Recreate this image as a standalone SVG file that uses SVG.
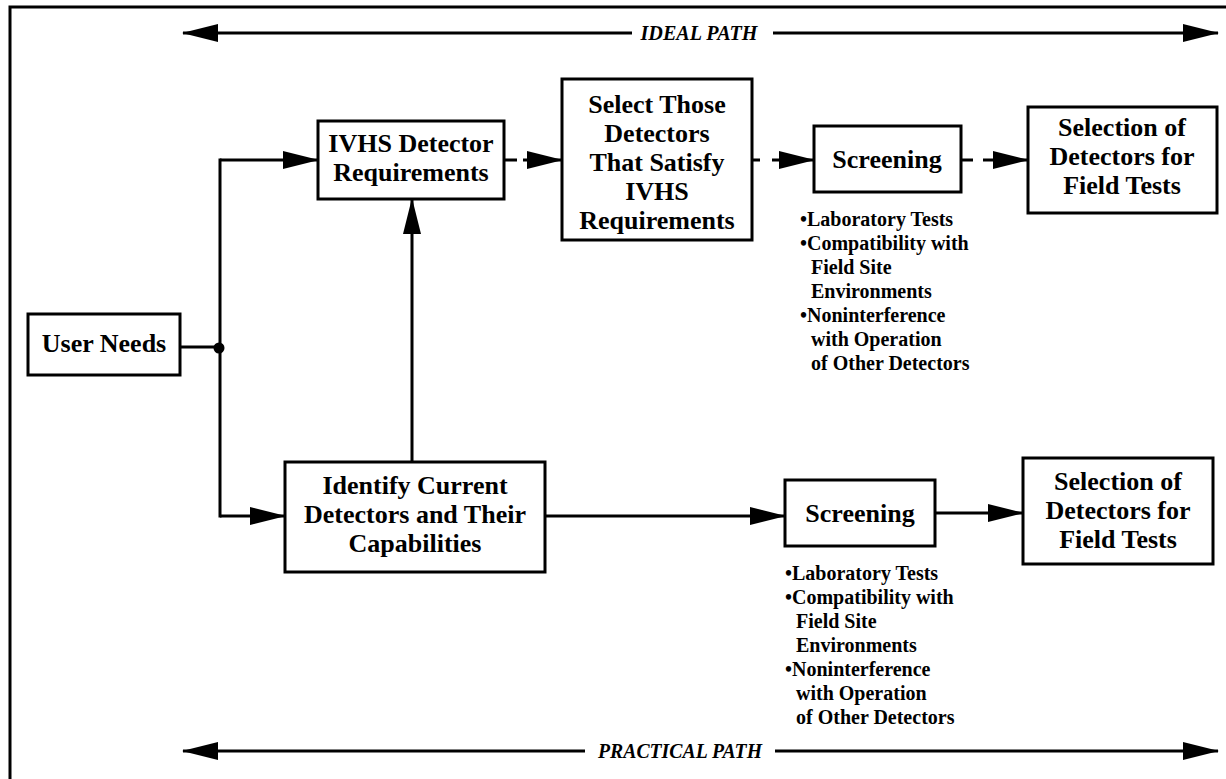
<svg xmlns="http://www.w3.org/2000/svg" width="1226" height="779" viewBox="0 0 1226 779">
<defs>
<style>
.frame{fill:none;stroke:#000;stroke-width:3}
.box{fill:#fff;stroke:#000;stroke-width:3}
.conn{fill:none;stroke:#000;stroke-width:3}
.t{font-family:"Liberation Serif","Times New Roman",serif;font-weight:bold;font-size:26px;text-anchor:middle;fill:#000}
.b{font-family:"Liberation Serif","Times New Roman",serif;font-weight:bold;font-size:20px;fill:#000}
.p{font-family:"Liberation Serif","Times New Roman",serif;font-style:italic;font-weight:bold;font-size:22px;text-anchor:middle;fill:#000}
</style>
<marker id="ah" viewBox="0 0 36 20" refX="35" refY="10" markerWidth="36" markerHeight="20" markerUnits="userSpaceOnUse" orient="auto-start-reverse">
<path d="M0,1 L36,10 L0,19 Z" fill="#000"/>
</marker>
</defs>
<rect width="1226" height="779" fill="#fff"/>
<path class="frame" d="M10,779 V7 H1226"/>

<g id="ideal-path">
<line class="conn" x1="183" y1="33" x2="632" y2="33" marker-start="url(#ah)"/>
<line class="conn" x1="773" y1="33" x2="1218" y2="33" marker-end="url(#ah)"/>
<text class="p" x="699" y="40" textLength="117" lengthAdjust="spacingAndGlyphs">IDEAL PATH</text>
</g>
<g id="practical-path">
<line class="conn" x1="183" y1="751" x2="585" y2="751" marker-start="url(#ah)"/>
<line class="conn" x1="775" y1="751" x2="1218" y2="751" marker-end="url(#ah)"/>
<text class="p" x="680" y="758" textLength="164" lengthAdjust="spacingAndGlyphs">PRACTICAL PATH</text>
</g>

<g id="connectors">
<line class="conn" x1="180" y1="347" x2="220" y2="347"/>
<circle cx="219" cy="348" r="5.5" fill="#000"/>
<line class="conn" x1="220" y1="158.5" x2="220" y2="517.5"/>
<line class="conn" x1="220" y1="160" x2="318" y2="160" marker-end="url(#ah)"/>
<line class="conn" x1="220" y1="516" x2="285" y2="516" marker-end="url(#ah)"/>
<line class="conn" x1="412" y1="462" x2="412" y2="199" marker-end="url(#ah)"/>
<line class="conn" x1="504" y1="160" x2="562" y2="160" stroke-dasharray="13 6 100" marker-end="url(#ah)"/>
<line class="conn" x1="752" y1="160" x2="814" y2="160" stroke-dasharray="8 12 100" marker-end="url(#ah)"/>
<line class="conn" x1="961" y1="160" x2="1028" y2="160" stroke-dasharray="12 10 100" marker-end="url(#ah)"/>
<line class="conn" x1="545" y1="516" x2="785" y2="516" marker-end="url(#ah)"/>
<line class="conn" x1="935" y1="513" x2="1023" y2="513" marker-end="url(#ah)"/>
</g>

<g id="user-needs">
<rect class="box" x="28" y="314" width="152" height="61"/>
<text class="t" x="104" y="352">User Needs</text>
</g>
<g id="ivhs-requirements">
<rect class="box" x="318" y="121" width="186" height="78"/>
<text class="t" x="411" y="152">IVHS Detector</text>
<text class="t" x="411" y="181">Requirements</text>
</g>
<g id="select-detectors">
<rect class="box" x="562" y="79" width="190" height="161"/>
<text class="t" x="657" y="113">Select Those</text>
<text class="t" x="657" y="142">Detectors</text>
<text class="t" x="657" y="171">That Satisfy</text>
<text class="t" x="657" y="200">IVHS</text>
<text class="t" x="657" y="229">Requirements</text>
</g>
<g id="screening-ideal">
<rect class="box" x="814" y="126" width="147" height="66"/>
<text class="t" x="887" y="168">Screening</text>
</g>
<g id="selection-ideal">
<rect class="box" x="1028" y="107" width="189" height="106"/>
<text class="t" x="1122" y="136">Selection of</text>
<text class="t" x="1122" y="165">Detectors for</text>
<text class="t" x="1122" y="194">Field Tests</text>
</g>
<g id="screening-ideal-notes">
<text class="b" x="800" y="226">•Laboratory Tests</text>
<text class="b" x="800" y="250">•Compatibility with</text>
<text class="b" x="811" y="274">Field Site</text>
<text class="b" x="811" y="298">Environments</text>
<text class="b" x="800" y="322">•Noninterference</text>
<text class="b" x="811" y="346">with Operation</text>
<text class="b" x="811" y="370">of Other Detectors</text>
</g>
<g id="identify-detectors">
<rect class="box" x="285" y="462" width="260" height="110"/>
<text class="t" x="415" y="494">Identify Current</text>
<text class="t" x="415" y="523">Detectors and Their</text>
<text class="t" x="415" y="552">Capabilities</text>
</g>
<g id="screening-practical">
<rect class="box" x="785" y="480" width="150" height="66"/>
<text class="t" x="860" y="522">Screening</text>
</g>
<g id="selection-practical">
<rect class="box" x="1023" y="458" width="190" height="106"/>
<text class="t" x="1118" y="490">Selection of</text>
<text class="t" x="1118" y="519">Detectors for</text>
<text class="t" x="1118" y="548">Field Tests</text>
</g>
<g id="screening-practical-notes">
<text class="b" x="785" y="580">•Laboratory Tests</text>
<text class="b" x="785" y="604">•Compatibility with</text>
<text class="b" x="796" y="628">Field Site</text>
<text class="b" x="796" y="652">Environments</text>
<text class="b" x="785" y="676">•Noninterference</text>
<text class="b" x="796" y="700">with Operation</text>
<text class="b" x="796" y="724">of Other Detectors</text>
</g>
</svg>
